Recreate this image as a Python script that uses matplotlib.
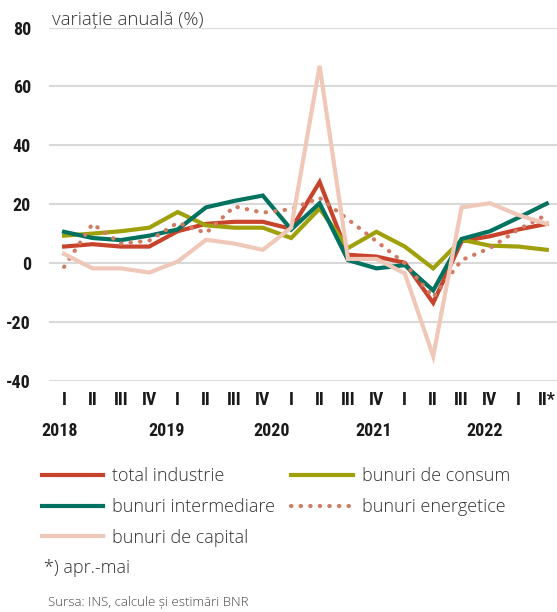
import matplotlib
matplotlib.use("Agg")
import matplotlib.pyplot as plt
from matplotlib import font_manager
import numpy as np

quarters = ["I", "II", "III", "IV", "I", "II", "III", "IV", "I", "II", "III", "IV",
            "I", "II", "III", "IV", "I", "II*"]
years = ["2018", "2019", "2020", "2021", "2022"]
year_pos = [-0.15, 3.6, 7.3, 10.9, 14.8]

total_industrie = [5.7, 6.5, 5.7, 5.7, 10.9, 13.4, 14.1, 14.1, 11.7, 27.6,
                   2.9, 2.3, 0.2, -13.4, 7.5, 9.2, 11.5, 13.4]
bunuri_intermediare = [10.7, 8.6, 7.9, 9.4, 11.5, 19.0, 21.2, 23.0, 11.5, 20.4,
                       1.1, -1.7, -0.6, -9.2, 8.3, 10.9, 15.5, 20.3]
bunuri_capital = [3.2, -1.7, -1.7, -3.1, 0.6, 8.0, 6.7, 4.6, 12.1, 67.0,
                  1.5, 1.5, -3.4, -31.5, 19.0, 20.4, 16.4, 13.4]
bunuri_consum = [9.4, 10.1, 10.9, 12.1, 17.4, 12.9, 12.1, 12.1, 8.6, 18.6,
                 5.2, 10.7, 5.7, -1.7, 8.0, 6.0, 5.7, 4.6]
bunuri_energetice = [-1.2, 13.4, 6.7, 7.7, 13.8, 10.3, 19.3, 17.2, 18.4, 22.2,
                     14.9, 7.5, 0.0, -11.5, 1.1, 5.2, 11.5, 16.5]

c_total = "#c8432c"
c_inter = "#00725f"
c_cap = "#efc8b9"
c_cons = "#9fa00a"
c_energ = "#d07c64"

plt.rcParams["axes.unicode_minus"] = False

# look for a narrow font for the axis numbers
names = set(f.name for f in font_manager.fontManager.ttflist)
narrow = [n for n in ["Liberation Sans Narrow", "Roboto Condensed", "Open Sans Condensed",
                      "DejaVu Sans Condensed"] if n in names]
tick_font = narrow + ["DejaVu Sans"]
text_font = ["Open Sans", "DejaVu Sans"]
tick_kw = dict(family=tick_font, fontweight="bold", fontsize=13, color="#1a1a1a",
               fontstretch="condensed")

fig = plt.figure(figsize=(5.57, 6.12), dpi=100)
ax = fig.add_axes([0.088, 0.377, 0.912, 0.578])

x = np.arange(len(quarters))
lw = 3.0
ax.plot(x, total_industrie, color=c_total, lw=lw, solid_joinstyle="miter", zorder=3, label="total industrie")
ax.plot(x, bunuri_consum, color=c_cons, lw=lw, solid_joinstyle="miter", zorder=4, label="bunuri de consum")
ax.plot(x, bunuri_intermediare, color=c_inter, lw=lw, solid_joinstyle="miter", zorder=5, label="bunuri intermediare")
ax.plot(x, bunuri_energetice, color=c_energ, lw=3.0, linestyle=(0, (0.1, 2.2)),
        dash_capstyle="round", zorder=6, label="bunuri energetice")
ax.plot(x, bunuri_capital, color=c_cap, lw=lw, solid_joinstyle="miter", zorder=7, label="bunuri de capital")

ax.set_ylim(-40, 80)
ax.set_yticks(np.arange(-40, 81, 20))
ax.set_xlim(-0.53, 17.36)
ax.set_xticks(x)
ax.set_xticklabels(quarters)
ax.grid(axis="y", color="#d9d9d9", lw=1.5, zorder=0)
ax.set_axisbelow(True)
for s in ax.spines.values():
    s.set_visible(False)
ax.tick_params(axis="both", length=0)
ax.tick_params(axis="y", pad=13)
ax.tick_params(axis="x", pad=7)
for lab in ax.get_xticklabels() + ax.get_yticklabels():
    lab.set(**tick_kw)

for yr, p in zip(years, year_pos):
    ax.text(p, -56.8, yr, ha="center", va="center", **tick_kw)

fig.text(0.093, 0.967, "variație anuală (%)", fontsize=13.5, family=text_font,
         color="#333333", va="center", ha="left", fontweight="light")

h, l = ax.get_legend_handles_labels()
order = ["total industrie", "bunuri intermediare", "bunuri de capital",
         "bunuri de consum", "bunuri energetice"]
hd = dict(zip(l, h))
leg = fig.legend([hd[k] for k in order], order, ncol=2, loc="upper left",
                 bbox_to_anchor=(0.062, 0.248), frameon=False,
                 prop={"family": text_font, "size": 13, "weight": "light"},
                 handlelength=3.4, handletextpad=0.5, columnspacing=0.9,
                 labelspacing=0.7, borderaxespad=0)
for t in leg.get_texts():
    t.set_color("#333333")

fig.text(0.079, 0.072, "*) apr.-mai", fontsize=13, family=text_font, color="#333333",
         va="center", ha="left", fontweight="light")
fig.text(0.086, 0.015, "Sursa: INS, calcule și estimări BNR", fontsize=9.5,
         family=text_font, color="#444444", va="center", ha="left", fontweight="light")

fig.savefig("out.png", dpi=100)
